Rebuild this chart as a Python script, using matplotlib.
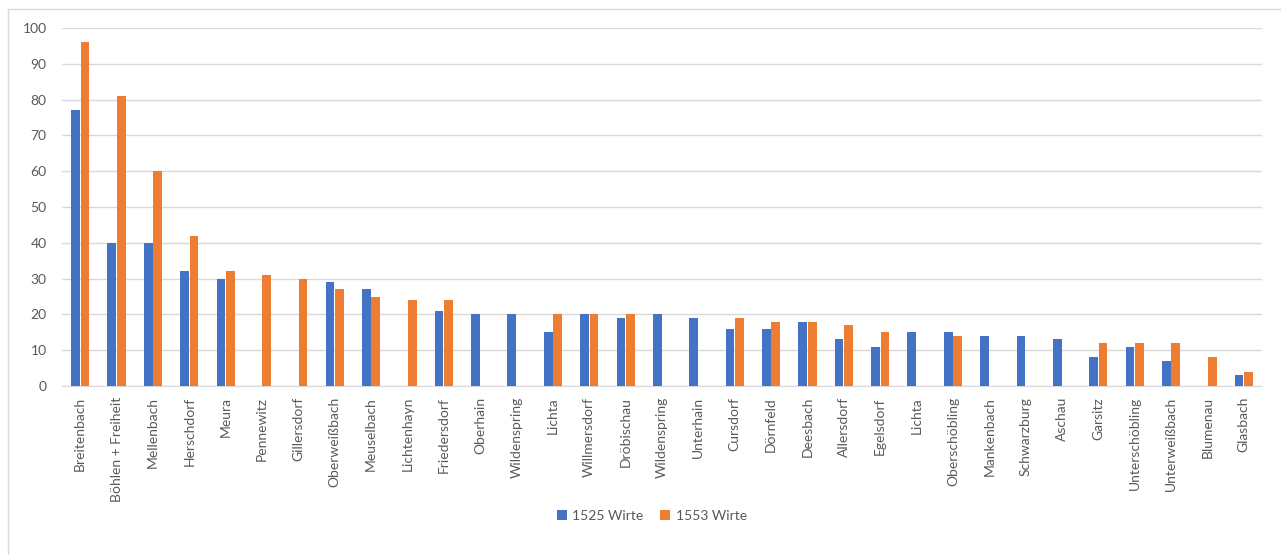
import numpy as np
import matplotlib.pyplot as plt
from matplotlib.patches import Rectangle

orte = ['Breitenbach', 'Böhlen + Freiheit', 'Mellenbach', 'Herschdorf', 'Meura',
        'Pennewitz', 'Gillersdorf', 'Oberweißbach', 'Meuselbach', 'Lichtenhayn',
        'Friedersdorf', 'Oberhain', 'Wildenspring', 'Lichta', 'Willmersdorf',
        'Dröbischau', 'Wildenspring', 'Unterhain', 'Cursdorf', 'Dörnfeld',
        'Deesbach', 'Allersdorf', 'Egelsdorf', 'Lichta', 'Oberschöbling',
        'Mankenbach', 'Schwarzburg', 'Aschau', 'Garsitz', 'Unterschöbling',
        'Unterweißbach', 'Blumenau', 'Glasbach']
wirte_1525 = [77, 40, 40, 32, 30, 0, 0, 29, 27, 0, 21, 20, 20, 15, 20, 19, 20,
              19, 16, 16, 18, 13, 11, 15, 15, 14, 14, 13, 8, 11, 7, 0, 3]
wirte_1553 = [96, 81, 60, 42, 32, 31, 30, 27, 25, 24, 24, 0, 0, 20, 20, 20, 0,
              0, 19, 18, 18, 17, 15, 0, 14, 0, 0, 0, 12, 12, 12, 8, 4]

plt.rcParams['font.family'] = ['Lato', 'DejaVu Sans']
fig = plt.figure(figsize=(12.81, 5.55), dpi=100)
# outer chart border
fig.patches.append(Rectangle((8 / 1281, -0.1), 1.2, 1 - 9 / 555 + 0.1,
                             transform=fig.transFigure, fill=False,
                             edgecolor='#D9D9D9', linewidth=1))
ax = fig.add_axes([62 / 1281, 1 - 386 / 555, 1200 / 1281, 358 / 555])

x = np.arange(len(orte))
w = 0.24
ax.bar(x - 0.13, wirte_1525, w, color='#4472C4', label='1525 Wirte', zorder=3)
ax.bar(x + 0.13, wirte_1553, w, color='#ED7D31', label='1553 Wirte', zorder=3)

ax.set_xlim(-0.5, len(orte) - 0.5)
ax.set_ylim(0, 100)
ax.set_yticks(range(0, 101, 10))
ax.set_xticks(x)
ax.set_xticklabels(orte, rotation=90, fontsize=10, color='#595959')
ax.tick_params(axis='y', labelsize=10, labelcolor='#595959', length=0, pad=11)
ax.tick_params(axis='x', length=0, pad=8)
ax.grid(axis='y', color='#D9D9D9', linewidth=1, zorder=0)
for s in ['top', 'right', 'left']:
    ax.spines[s].set_visible(False)
ax.spines['bottom'].set_color('#D9D9D9')

ax.legend(loc='center', bbox_to_anchor=(652 / 1281, 1 - 516 / 555),
          bbox_transform=fig.transFigure, ncol=2, frameon=False, fontsize=10,
          handlelength=0.7, handleheight=0.7, columnspacing=1.2,
          handletextpad=0.4, labelcolor='#595959')

fig.savefig('out.png', dpi=100)
